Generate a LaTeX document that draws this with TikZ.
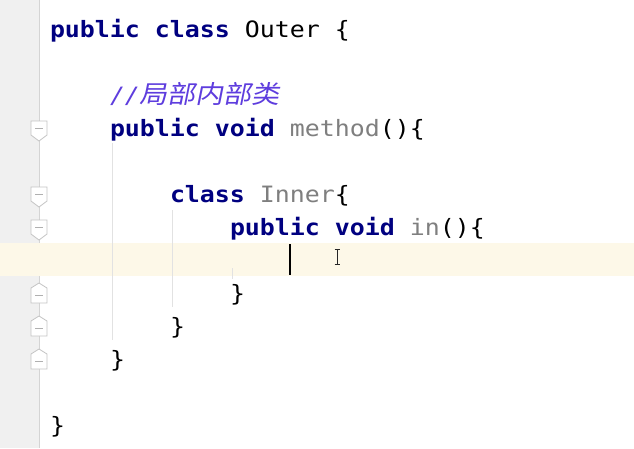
\documentclass[tikz,border=0pt]{standalone}
\usepackage{fontspec}
\newfontfamily\codefont[FakeStretch=1.107]{DejaVu Sans Mono}
\newfontfamily\cjkfont[FakeStretch=1.12,FakeSlant=0.2]{Noto Sans CJK SC}
\definecolor{kwc}{HTML}{000080}
\definecolor{grayname}{HTML}{7F7F7F}
\definecolor{commentc}{HTML}{5E3DDE}
\definecolor{gutterbg}{HTML}{F0F0F0}
\definecolor{gutterline}{HTML}{D4D4D4}
\definecolor{curline}{HTML}{FDF8E8}
\definecolor{guide}{HTML}{E2E2E2}
\definecolor{foldc}{HTML}{C4C4C4}
\newcommand{\kwd}[1]{{\bfseries\color{kwc}#1}}
\newcommand{\gname}[1]{{\color{grayname}#1}}
\begin{document}
\begin{tikzpicture}[x=1pt,y=-1pt,
  code/.style={anchor=base west,inner sep=0pt,outer sep=0pt,
    font=\codefont\fontsize{22.5}{27}\selectfont},
  foldbox/.style={fill=white,draw=foldc,line width=0.8pt,line join=miter},
  foldminus/.style={draw=foldc!90!black,line width=0.8pt},
  guideline/.style={draw=guide,line width=0.8pt}]
\useasboundingbox (0,0) rectangle (634,448);
\fill[white] (0,0) rectangle (634,448);
% gutter
\fill[gutterbg] (0,0) rectangle (38.6,448);
\draw[gutterline,line width=0.9pt] (39.2,0) -- (39.2,448);
% current line highlight
\fill[curline] (0,243) rectangle (634,276);
% indent guides
\draw[guideline] (112.5,143) -- (112.5,340);
\draw[guideline] (172.5,210) -- (172.5,307);
\draw[guideline] (232.5,268) -- (232.5,279);
% fold markers (open)
\foreach \b in {136,202,235}{
  \draw[foldbox] (31,\b-15) -- (47,\b-15) -- (47,\b-1) -- (39,\b+5) -- (31,\b-1) -- cycle;
  \draw[foldminus] (35,\b-8) -- (43,\b-8);
}
% fold markers (close)
\foreach \b in {301,334,367}{
  \draw[foldbox] (39,\b-18) -- (47,\b-13) -- (47,\b+2) -- (31,\b+2) -- (31,\b-13) -- cycle;
  \draw[foldminus] (35,\b-5.5) -- (43,\b-5.5);
}
% code lines
\node[code] (l1) at (50,37) {\kwd{public class} Outer \{};
\node[code] (l3) at (110,103) {\color{commentc}\itshape //\cjkfont\fontsize{25}{27}\selectfont 局部内部类};
\node[code] (l4) at (110,136) {\kwd{public void} \gname{method}()\{};
\node[code] (l6) at (170,202) {\kwd{class} \gname{Inner}\{};
\node[code] (l7) at (230,235) {\kwd{public void} \gname{in}()\{};
\node[code] (l9) at (230,301) {\}};
\node[code] (l10) at (170,334) {\}};
\node[code] (l11) at (110,367) {\}};
\node[code] (l13) at (50,433) {\}};
% caret
\fill[black] (289,244) rectangle (291,275);
% mouse I-beam
\draw[black!85,line width=1pt] (337,250) -- (337,264);
\draw[black!85,line width=0.9pt] (334.5,249.5) -- (339.5,249.5);
\draw[black!85,line width=0.9pt] (334.5,264.5) -- (339.5,264.5);
\end{tikzpicture}
\end{document}
